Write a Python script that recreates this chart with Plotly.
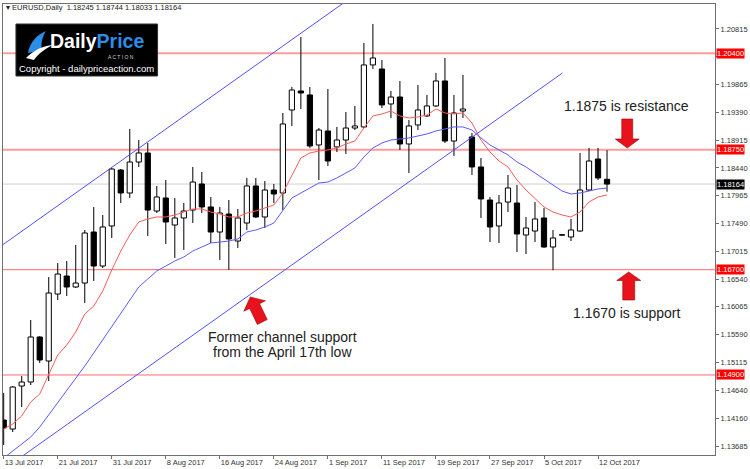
import plotly.graph_objects as go

# ---------------- data ----------------
symbol_header = "EURUSD,Daily  1.18245 1.18744 1.18033 1.18164"

opens = [1.14130, 1.13976, 1.14711, 1.14780, 1.15549, 1.15139, 1.16284, 1.16592, 1.16404, 1.16472,
         1.17344, 1.16763, 1.17447, 1.18404, 1.18011, 1.18541, 1.18695, 1.17703, 1.17926, 1.17464,
         1.17584, 1.17720, 1.18165, 1.17772, 1.17344, 1.17652, 1.17190, 1.17498, 1.18131, 1.17601,
         1.18062, 1.18011, 1.19430, 1.19755, 1.19687, 1.18832, 1.19071, 1.18798, 1.18917, 1.19122,
         1.19140, 1.20200, 1.20131, 1.19533, 1.19652, 1.18849, 1.19174, 1.19328, 1.19499, 1.19926,
         1.18900, 1.19413, 1.18969, 1.18456, 1.17891, 1.17447, 1.17857, 1.17840, 1.17293, 1.17361,
         1.17584, 1.17088, 1.17298, 1.17259, 1.17361, 1.18062, 1.18592, 1.18245]
highs = [1.14592, 1.14711, 1.14882, 1.15840, 1.15566, 1.16575, 1.16814, 1.16849, 1.17122, 1.17379,
         1.17772, 1.17635, 1.18439, 1.18421, 1.19105, 1.18917, 1.18866, 1.18131, 1.18233, 1.17926,
         1.17840, 1.18456, 1.18370, 1.17943, 1.17772, 1.17891, 1.17738, 1.18268, 1.18268, 1.18216,
         1.18165, 1.19379, 1.19823, 1.20678, 1.19823, 1.19122, 1.19789, 1.19140, 1.19396, 1.19499,
         1.20576, 1.20901, 1.20285, 1.19755, 1.19926, 1.19259, 1.19858, 1.19687, 1.20063, 1.20319,
         1.19687, 1.20029, 1.19037, 1.18610, 1.17943, 1.17977, 1.18319, 1.18148, 1.17601, 1.17857,
         1.17755, 1.17379, 1.17305, 1.17567, 1.18695, 1.18781, 1.18781, 1.18744]
lows = [1.13703, 1.13925, 1.14352, 1.14728, 1.15105, 1.14797, 1.16182, 1.16250, 1.16387, 1.16130,
        1.16507, 1.16729, 1.17242, 1.17840, 1.17926, 1.18456, 1.17276, 1.17669, 1.17139, 1.16900,
        1.17037, 1.17498, 1.17669, 1.17156, 1.16866, 1.16695, 1.17071, 1.17379, 1.17584, 1.17413,
        1.17840, 1.17720, 1.19157, 1.19447, 1.18781, 1.18233, 1.18473, 1.18712, 1.18678, 1.19088,
        1.19122, 1.20131, 1.19464, 1.19293, 1.18746, 1.18353, 1.19088, 1.19311, 1.19481, 1.18866,
        1.18644, 1.19293, 1.18319, 1.17584, 1.17173, 1.17156, 1.17686, 1.17002, 1.16968, 1.17173,
        1.17071, 1.16690, 1.17282, 1.17190, 1.17344, 1.18045, 1.18233, 1.18033]
closes = [1.13993, 1.14694, 1.14780, 1.15549, 1.15156, 1.16301, 1.16626, 1.16404, 1.16472, 1.17327,
          1.16763, 1.17430, 1.18421, 1.18011, 1.18541, 1.18695, 1.17720, 1.17943, 1.17515, 1.17584,
          1.17703, 1.18199, 1.17772, 1.17344, 1.17669, 1.17225, 1.17584, 1.18131, 1.17601, 1.18062,
          1.17994, 1.19191, 1.19772, 1.19721, 1.18815, 1.19088, 1.18558, 1.18917, 1.19122, 1.19157,
          1.20200, 1.20319, 1.19516, 1.19652, 1.18849, 1.19157, 1.19430, 1.19499, 1.19926, 1.18900,
          1.19379, 1.19447, 1.18456, 1.17909, 1.17430, 1.17840, 1.18097, 1.17310, 1.17413, 1.17567,
          1.17088, 1.17242, 1.17290, 1.17379, 1.18062, 1.18558, 1.18268, 1.18164]

ma_fast = [1.13976, 1.14062, 1.14199, 1.14438, 1.14575, 1.14899, 1.15241, 1.15412, 1.15635, 1.15942,
           1.16079, 1.16336, 1.16695, 1.17019, 1.17293, 1.17515, 1.17567, 1.17601, 1.17601, 1.17635,
           1.17686, 1.17738, 1.17738, 1.17686, 1.17652, 1.17601, 1.17601, 1.17669, 1.17703, 1.17755,
           1.17806, 1.18011, 1.18302, 1.18610, 1.18695, 1.18729, 1.18746, 1.18781, 1.18849, 1.18900,
           1.19122, 1.19328, 1.19362, 1.19413, 1.19328, 1.19293, 1.19311, 1.19345, 1.19447, 1.19379,
           1.19362, 1.19379, 1.19208, 1.18917, 1.18712, 1.18558, 1.18456, 1.18233, 1.18062, 1.17909,
           1.17772, 1.17686, 1.17635, 1.17601, 1.17686, 1.17857, 1.17943, 1.17977]
ma_slow = [1.13480, 1.13600, 1.13720, 1.13839, 1.14010, 1.14216, 1.14421, 1.14643, 1.14848, 1.15053,
           1.15276, 1.15498, 1.15720, 1.15942, 1.16182, 1.16404, 1.16541, 1.16678, 1.16763, 1.16849,
           1.16917, 1.17019, 1.17088, 1.17156, 1.17173, 1.17190, 1.17225, 1.17344, 1.17379, 1.17430,
           1.17498, 1.17703, 1.17926, 1.18011, 1.18097, 1.18182, 1.18199, 1.18268, 1.18353, 1.18439,
           1.18627, 1.18781, 1.18866, 1.18917, 1.18934, 1.18951, 1.18986, 1.19020, 1.19071, 1.19105,
           1.19140, 1.19140, 1.19088, 1.18951, 1.18832, 1.18746, 1.18661, 1.18541, 1.18456, 1.18353,
           1.18250, 1.18148, 1.18045, 1.17994, 1.18011, 1.18045, 1.18080, 1.18097]

# channel trend lines: (bar index, price) anchor points
channel_upper_x = [-0.3, 37.9]
channel_upper_y = [1.17105, 1.21277]
channel_lower_x = [0.0, 62.05]
channel_lower_y = [1.13286, 1.20063]

level_prices = [1.20400, 1.18750, 1.16700, 1.14900]
last_price = 1.18164

x_tick_idx = [0, 6, 12, 18, 24, 30, 36, 42, 48, 54, 60, 66]
x_tick_labels = ["13 Jul 2017", "21 Jul 2017", "31 Jul 2017", "8 Aug 2017", "16 Aug 2017",
                 "24 Aug 2017", "1 Sep 2017", "11 Sep 2017", "19 Sep 2017", "27 Sep 2017",
                 "5 Oct 2017", "12 Oct 2017"]
y_tick_vals = [1.20815, 1.20340, 1.19865, 1.19390, 1.18915, 1.18440, 1.17965, 1.17490,
               1.17015, 1.16540, 1.16065, 1.15590, 1.15115, 1.14640, 1.14160, 1.13685]
# the 1.20340 label sits under the 1.20400 level tag in the reference
y_tick_labels = ["" if abs(v - 1.20340) < 1e-9 else "%.5f" % v for v in y_tick_vals]

# ---------------- layout helpers (pixel -> paper) ----------------
PL, PR, PT, PB = 2, 716, 4, 455
def pxp(x):
    return (x - PL) / (PR - PL)
def pyp(y):
    return 1 - (y - PT) / (PB - PT)
def pt(x, y):
    return f"{pxp(x):.5f},{pyp(y):.5f}"
def poly(points):
    return "M " + " L ".join(pt(x, y) for x, y in points) + " Z"
def arrow(tail, tip, shaft, head, hlen):
    dx, dy = tip[0] - tail[0], tip[1] - tail[1]
    L = (dx * dx + dy * dy) ** 0.5
    ux, uy = dx / L, dy / L
    nx, ny = -uy, ux
    bx, by = tip[0] - ux * hlen, tip[1] - uy * hlen
    return [(tail[0] + nx * shaft, tail[1] + ny * shaft),
            (bx + nx * shaft, by + ny * shaft),
            (bx + nx * head, by + ny * head),
            tip,
            (bx - nx * head, by - ny * head),
            (bx - nx * shaft, by - ny * shaft),
            (tail[0] - nx * shaft, tail[1] - ny * shaft)]

idx = list(range(len(opens)))

fig = go.Figure()

# wicks
wx, wy = [], []
for i, o, h, l, c in zip(idx, opens, highs, lows, closes):
    top, bot = max(o, c), min(o, c)
    wx += [i, i, None, i, i, None]
    wy += [h, top, None, bot, l, None]
fig.add_trace(go.Scatter(x=wx, y=wy, mode="lines", line=dict(color="black", width=1),
                         hoverinfo="skip"))
# bodies
fig.add_trace(go.Bar(
    x=idx,
    y=[max(abs(c - o), 0.00003) for o, c in zip(opens, closes)],
    base=[min(o, c) for o, c in zip(opens, closes)],
    width=0.58,
    marker=dict(color=["white" if c >= o else "black" for o, c in zip(opens, closes)],
                line=dict(color="black", width=1)),
    hoverinfo="skip"))

# moving averages
fig.add_trace(go.Scatter(x=idx, y=ma_fast, mode="lines", line=dict(color="#ff5a5a", width=1)))
fig.add_trace(go.Scatter(x=idx, y=ma_slow, mode="lines", line=dict(color="#5a5aff", width=1)))
# channel
fig.add_trace(go.Scatter(x=channel_upper_x, y=channel_upper_y, mode="lines",
                         line=dict(color="#5050ff", width=1)))
fig.add_trace(go.Scatter(x=channel_lower_x, y=channel_lower_y, mode="lines",
                         line=dict(color="#5050ff", width=1)))

shapes = []
# current price line
shapes.append(dict(type="line", xref="paper", yref="y", x0=0, x1=1, y0=last_price, y1=last_price,
                   line=dict(color="#cfcfcf", width=1), layer="below"))
level_styles = [("#ff9c9c", 2), ("#ff9c9c", 2), ("#ff6a6a", 1), ("#ff6a6a", 1)]
for lv, (col, w) in zip(level_prices, level_styles):
    shapes.append(dict(type="line", xref="paper", yref="y", x0=0, x1=1, y0=lv, y1=lv,
                       line=dict(color=col, width=w), layer="below"))

# logo box
shapes.append(dict(type="rect", xref="paper", yref="paper", x0=pxp(15), x1=pxp(157),
                   y0=pyp(76), y1=pyp(24), fillcolor="black", line=dict(color="#333", width=1),
                   layer="above"))
# logo swoosh
shapes.append(dict(type="path", xref="paper", yref="paper", layer="above",
                   path=f"M {pt(27,53)} C {pt(29,42)} {pt(36,35)} {pt(45,31)} C {pt(41,38)} {pt(40,44)} {pt(41,50)} Z",
                   fillcolor="#2a8de6", line=dict(width=0)))
shapes.append(dict(type="path", xref="paper", yref="paper", layer="above",
                   path=f"M {pt(25,58)} C {pt(33,50)} {pt(42,46)} {pt(52,45)} C {pt(44,49)} {pt(38,53)} {pt(33,60)} Z",
                   fillcolor="white", line=dict(width=0)))

# red arrows
for a in [arrow((628, 119), (628, 148), 5.5, 12, 9),
          arrow((629.5, 300), (629.5, 272), 6, 12, 8.5),
          arrow((262, 322), (250, 297), 5.5, 12, 10)]:
    shapes.append(dict(type="path", xref="paper", yref="paper", layer="above", path=poly(a),
                       fillcolor="#e8121c", line=dict(color="#9a0000", width=0.6)))

annotations = []
# price level labels on right axis
for lv in level_prices:
    annotations.append(dict(xref="paper", yref="y", x=1, y=lv, xanchor="left", yanchor="middle",
                            xshift=1, text="%.5f" % lv, showarrow=False, bgcolor="#ff0000",
                            borderpad=0, font=dict(family="Liberation Sans", size=7.5, color="white")))
annotations.append(dict(xref="paper", yref="y", x=1, y=last_price, xanchor="left", yanchor="middle",
                        xshift=1, text="%.5f" % last_price, showarrow=False, bgcolor="black",
                        borderpad=0, font=dict(family="Liberation Sans", size=7.5, color="white")))
# header
annotations.append(dict(xref="paper", yref="paper", x=pxp(3), y=pyp(7.5), xanchor="left",
                        yanchor="middle", showarrow=False, text="▾ " + symbol_header,
                        font=dict(family="Liberation Sans", size=7.5, color="#222")))
# logo text
annotations.append(dict(xref="paper", yref="paper", x=pxp(48), y=pyp(41.5), xanchor="left",
                        yanchor="middle", showarrow=False, borderpad=0,
                        text="<b><span style='color:white'>Daily</span><span style='color:#2a8de6'>Price</span></b>",
                        font=dict(family="Liberation Sans", size=19.5, color="white")))
annotations.append(dict(xref="paper", yref="paper", x=pxp(120), y=pyp(57), xanchor="center",
                        yanchor="middle", showarrow=False, text="A C T I O N", borderpad=0,
                        font=dict(family="Liberation Sans", size=5, color="#d0d0d0")))
annotations.append(dict(xref="paper", yref="paper", x=pxp(86), y=pyp(68.5), xanchor="center",
                        yanchor="middle", showarrow=False, text="Copyright - dailypriceaction.com",
                        borderpad=0, font=dict(family="Liberation Sans", size=9.5, color="white")))
# commentary
txtfont = dict(family="Liberation Sans", size=14, color="#222")
annotations.append(dict(xref="paper", yref="paper", x=pxp(627), y=pyp(106), xanchor="center",
                        yanchor="middle", showarrow=False, text="1.1875 is resistance", font=txtfont))
annotations.append(dict(xref="paper", yref="paper", x=pxp(628), y=pyp(313), xanchor="center",
                        yanchor="middle", showarrow=False, text="1.1670 is support", font=txtfont))
annotations.append(dict(xref="paper", yref="paper", x=pxp(282), y=pyp(337), xanchor="center",
                        yanchor="middle", showarrow=False, text="Former channel support", font=txtfont))
annotations.append(dict(xref="paper", yref="paper", x=pxp(282), y=pyp(352), xanchor="center",
                        yanchor="middle", showarrow=False, text="from the April 17th low", font=txtfont))

axis_col = "#707070"
fig.update_layout(
    width=750, height=469,
    margin=dict(l=PL, r=750 - PR, t=PT, b=469 - PB),
    paper_bgcolor="white", plot_bgcolor="white",
    showlegend=False,
    shapes=shapes, annotations=annotations,
    xaxis=dict(range=[-0.078, 78.99], tickmode="array", tickvals=x_tick_idx, ticktext=x_tick_labels,
               ticks="outside", ticklen=3, tickcolor=axis_col, showline=True, linecolor=axis_col,
               linewidth=1, mirror=True, showgrid=False, zeroline=False,
               ticklabelposition="outside right",
               tickfont=dict(family="Liberation Sans", size=7.5, color="#333")),
    yaxis=dict(range=[1.13532, 1.21242], side="right", tickmode="array", tickvals=y_tick_vals,
               ticktext=y_tick_labels, ticks="outside", ticklen=3, tickcolor=axis_col,
               showline=True, linecolor=axis_col, linewidth=1, mirror=True, showgrid=False,
               zeroline=False, tickfont=dict(family="Liberation Sans", size=7.5, color="#333")),
)

fig.write_html("out.html")
